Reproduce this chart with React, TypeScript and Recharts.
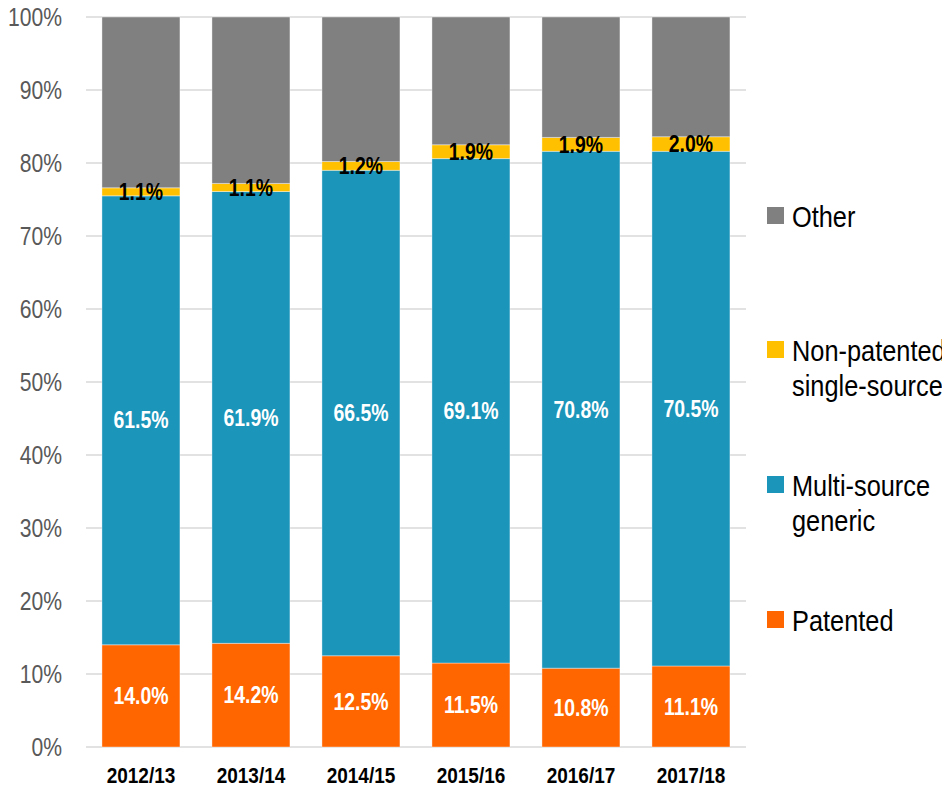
import React from "react";
import { BarChart, Bar, XAxis, YAxis, CartesianGrid, LabelList } from "recharts";

const categories = ["2012/13", "2013/14", "2014/15", "2015/16", "2016/17", "2017/18"];
const patented = [14.0, 14.2, 12.5, 11.5, 10.8, 11.1];
const multiSource = [61.5, 61.9, 66.5, 69.1, 70.8, 70.5];
const nonPatented = [1.1, 1.1, 1.2, 1.9, 1.9, 2.0];
const other = [23.4, 22.8, 19.8, 17.5, 16.5, 16.4];
const yTicks = [0, 10, 20, 30, 40, 50, 60, 70, 80, 90, 100];

const series = [
  { key: "patented", name: "Patented", color: "#FF6600", labelColor: "#FFFFFF", label: true },
  { key: "multi", name: "Multi-source\ngeneric", color: "#1B95BA", labelColor: "#FFFFFF", label: true },
  { key: "nonpat", name: "Non-patented\nsingle-source", color: "#FFC000", labelColor: "#000000", label: true },
  { key: "other", name: "Other", color: "#808080", labelColor: "#000000", label: false },
];

const data = categories.map((c, i) => ({
  cat: c,
  patented: patented[i],
  multi: multiSource[i],
  nonpat: nonPatented[i],
  other: other[i],
}));

const FONT = "'Liberation Sans', Arial, sans-serif";
const NARROW = 0.845;

const legendItems = [
  { s: series[3], top: 199 },
  { s: series[2], top: 333 },
  { s: series[1], top: 468 },
  { s: series[0], top: 603 },
];

const YTick = (props: any) => {
  const { x, y, payload } = props;
  return (
    <g transform={`translate(${x},${y})`}>
      <text transform={`scale(${NARROW},1)`} textAnchor="end" dy="0.355em" fill="#595959" fontSize={25} fontFamily={FONT}>
        {`${payload.value}%`}
      </text>
    </g>
  );
};

const XTick = (props: any) => {
  const { x, y, payload } = props;
  return (
    <g transform={`translate(${x},${y})`}>
      <text transform={`scale(${NARROW},1)`} textAnchor="middle" dy="0.71em" fill="#000000" fontSize={22.5} fontWeight="bold" fontFamily={FONT}>
        {payload.value}
      </text>
    </g>
  );
};

const makeLabel = (color: string) => (props: any) => {
  const { x, y, width, height, value } = props;
  const cx = Number(x) + Number(width) / 2;
  const cy = Number(y) + Number(height) / 2;
  return (
    <g transform={`translate(${cx},${cy})`}>
      <text transform={`scale(${NARROW},1)`} textAnchor="middle" dy="0.355em" fill={color} fontSize={23} fontWeight="bold" fontFamily={FONT}>
        {`${Number(value).toFixed(1)}%`}
      </text>
    </g>
  );
};

export default function App() {
  return (
    <div style={{ position: "relative", width: 942, height: 789, marginTop: -8, fontFamily: FONT }}>
      <BarChart
        width={942}
        height={789}
        data={data}
        margin={{ top: 17, right: 204, bottom: 0, left: 0 }}
        barCategoryGap="14.5%"
      >
        <CartesianGrid vertical={false} stroke="#D9D9D9" strokeWidth={1.5} />
        <XAxis
          dataKey="cat"
          axisLine={false}
          tickLine={false}
          tickSize={0}
          tickMargin={20}
          height={42}
          tick={<XTick />}
        />
        <YAxis
          type="number"
          domain={[0, 100]}
          ticks={yTicks}
          axisLine={false}
          tickLine={false}
          tickSize={0}
          tickMargin={24}
          width={78}
          tick={<YTick />}
        />
        {series.map((s) => (
          <Bar
            key={s.key}
            dataKey={s.key}
            stackId="a"
            fill={s.color}
            stroke="#FFFFFF"
            strokeOpacity={0.5}
            strokeWidth={0.75}
            isAnimationActive={false}
          >
            {s.label && <LabelList dataKey={s.key} content={makeLabel(s.labelColor)} />}
          </Bar>
        ))}
      </BarChart>
      {legendItems.map(({ s, top }) => (
        <div key={s.key} style={{ position: "absolute", left: 759, top: top, display: "flex", alignItems: "flex-start" }}>
          <div style={{ width: 17, height: 17, background: s.color, marginTop: 8, marginRight: 8, flex: "none" }} />
          <div
            style={{
              fontSize: 30,
              lineHeight: "35px",
              color: "#000",
              whiteSpace: "pre",
              fontFamily: FONT,
              transform: `scaleX(${NARROW})`,
              transformOrigin: "left top",
            }}
          >
            {s.name}
          </div>
        </div>
      ))}
    </div>
  );
}
